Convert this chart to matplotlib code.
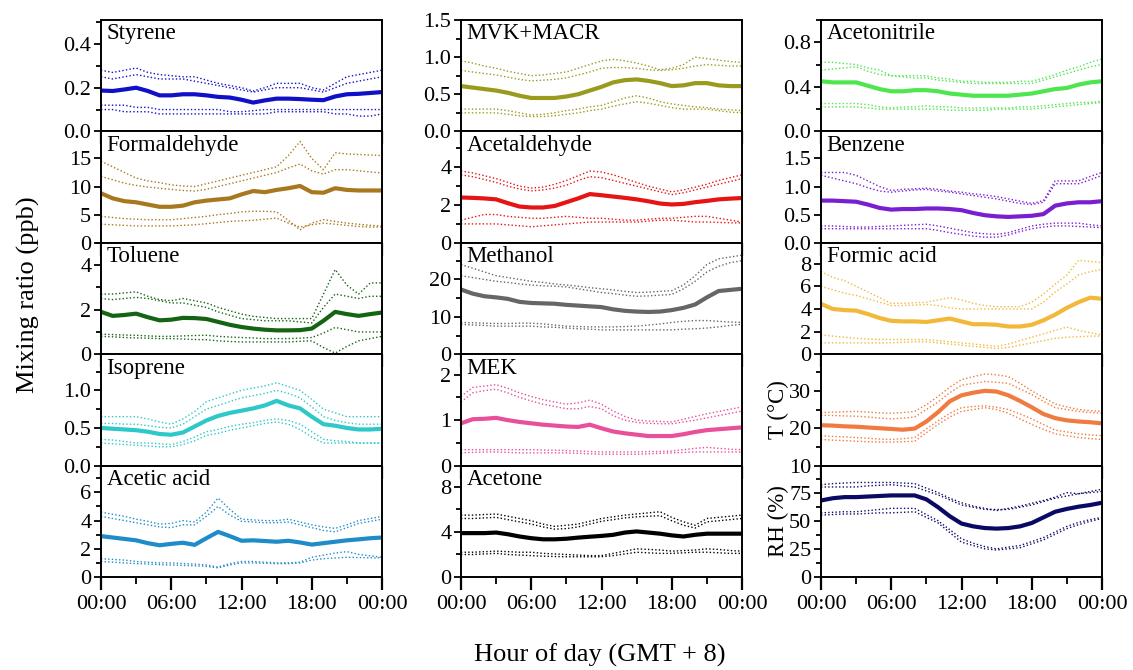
import matplotlib
matplotlib.use("Agg")
import matplotlib.pyplot as plt
from matplotlib.ticker import MultipleLocator, NullLocator

plt.rcParams['font.family'] = ['Liberation Serif', 'DejaVu Serif']
plt.rcParams['mathtext.fontset'] = 'stix'

hours = list(range(25))

# ---- column 1 ----
styrene_med = [0.187, 0.185, 0.192, 0.2, 0.185, 0.165, 0.165, 0.17, 0.17, 0.165, 0.158, 0.155, 0.145,
               0.132, 0.142, 0.15, 0.15, 0.148, 0.145, 0.143, 0.16, 0.17, 0.172, 0.176, 0.18]
styrene_p90 = [0.28, 0.27, 0.28, 0.29, 0.27, 0.26, 0.255, 0.25, 0.25, 0.235, 0.22, 0.21, 0.2,
               0.185, 0.2, 0.22, 0.22, 0.22, 0.2, 0.19, 0.22, 0.25, 0.26, 0.27, 0.28]
styrene_p75 = [0.25, 0.24, 0.25, 0.26, 0.25, 0.24, 0.24, 0.24, 0.23, 0.22, 0.21, 0.2, 0.19,
               0.18, 0.19, 0.2, 0.2, 0.2, 0.19, 0.18, 0.2, 0.22, 0.23, 0.24, 0.25]
styrene_p25 = [0.12, 0.12, 0.12, 0.11, 0.11, 0.1, 0.1, 0.1, 0.1, 0.1, 0.1, 0.09, 0.09,
               0.095, 0.1, 0.1, 0.1, 0.1, 0.1, 0.1, 0.1, 0.1, 0.1, 0.1, 0.1]
styrene_p10 = [0.1, 0.1, 0.09, 0.09, 0.09, 0.08, 0.08, 0.08, 0.08, 0.08, 0.08, 0.08, 0.08,
               0.08, 0.08, 0.09, 0.09, 0.09, 0.09, 0.09, 0.08, 0.08, 0.07, 0.07, 0.08]

formal_med = [8.8, 7.9, 7.4, 7.2, 6.8, 6.4, 6.4, 6.6, 7.2, 7.5, 7.7, 7.9, 8.6,
              9.2, 9.0, 9.4, 9.7, 10.1, 9.0, 8.9, 9.7, 9.4, 9.3, 9.3, 9.3]
formal_p90 = [14.5, 13.5, 12.5, 11.5, 11, 10.7, 10.3, 10.1, 10, 10.5, 11, 11.5, 12,
              12.5, 13, 13.5, 15.5, 18, 15, 13, 16, 15.8, 15.7, 15.6, 15.5]
formal_p75 = [11.8, 11.2, 10.6, 10.2, 9.9, 9.7, 9.5, 9.3, 9.2, 9.5, 10, 10.5, 11,
              11.5, 12, 12.5, 13.3, 14, 12.8, 12.2, 13, 13, 12.8, 12.6, 12.4]
formal_p25 = [4.7, 4.5, 4.3, 4.2, 4.1, 4.1, 4.1, 4.3, 4.5, 4.7, 5.0, 5.2, 5.5,
              5.6, 5.6, 5.5, 4.0, 2.3, 3.5, 4.1, 3.8, 3.5, 3.3, 3.1, 3.0]
formal_p10 = [3.3, 3.2, 3.1, 3.0, 3.0, 3.0, 3.0, 3.1, 3.2, 3.4, 3.6, 3.8, 3.9,
              4.0, 4.2, 4.4, 3.5, 2.8, 3.2, 3.5, 3.3, 3.1, 2.9, 2.8, 2.8]

toluene_med = [1.9, 1.72, 1.76, 1.82, 1.66, 1.52, 1.55, 1.63, 1.62, 1.58, 1.45, 1.32, 1.22,
               1.15, 1.1, 1.07, 1.07, 1.08, 1.15, 1.5, 1.9, 1.8, 1.72, 1.8, 1.87]
toluene_p90 = [2.7, 2.7, 2.75, 2.8, 2.6, 2.45, 2.4, 2.5, 2.4, 2.3, 2.1, 1.95, 1.8,
               1.7, 1.65, 1.6, 1.6, 1.6, 1.6, 2.7, 3.8, 3.1, 2.7, 3.2, 3.2]
toluene_p75 = [2.5, 2.45, 2.5, 2.55, 2.5, 2.4, 2.3, 2.3, 2.2, 2.1, 1.9, 1.75, 1.6,
               1.55, 1.5, 1.5, 1.5, 1.45, 1.4, 2.1, 2.7, 2.6, 2.5, 2.6, 2.6]
toluene_p25 = [0.9, 0.88, 0.86, 0.85, 0.82, 0.8, 0.8, 0.82, 0.84, 0.85, 0.8, 0.77, 0.75,
               0.73, 0.7, 0.7, 0.7, 0.72, 0.75, 0.95, 1.2, 1.1, 1.0, 1.0, 1.0]
toluene_p10 = [0.8, 0.78, 0.75, 0.73, 0.72, 0.7, 0.7, 0.68, 0.66, 0.65, 0.6, 0.57, 0.55,
               0.55, 0.55, 0.55, 0.55, 0.58, 0.6, 0.3, 0.05, 0.35, 0.6, 0.7, 0.8]

isoprene_med = [0.5, 0.49, 0.48, 0.47, 0.45, 0.42, 0.41, 0.44, 0.52, 0.6, 0.66, 0.7, 0.73,
                0.76, 0.8, 0.86, 0.8, 0.76, 0.65, 0.55, 0.53, 0.5, 0.48, 0.48, 0.49]
isoprene_p90 = [0.65, 0.65, 0.65, 0.65, 0.62, 0.58, 0.55, 0.62, 0.72, 0.85, 0.9, 0.95, 1.0,
                1.03, 1.06, 1.1, 1.05, 1.0, 0.88, 0.75, 0.7, 0.65, 0.65, 0.65, 0.65]
isoprene_p75 = [0.56, 0.56, 0.55, 0.55, 0.53, 0.51, 0.5, 0.55, 0.65, 0.75, 0.8, 0.85, 0.9,
                0.93, 0.96, 1.0, 0.96, 0.9, 0.78, 0.65, 0.6, 0.57, 0.55, 0.55, 0.55]
isoprene_p25 = [0.35, 0.34, 0.32, 0.3, 0.3, 0.29, 0.28, 0.32, 0.38, 0.45, 0.48, 0.52, 0.55,
                0.57, 0.6, 0.62, 0.6, 0.55, 0.45, 0.35, 0.33, 0.32, 0.3, 0.3, 0.3]
isoprene_p10 = [0.3, 0.29, 0.28, 0.27, 0.26, 0.25, 0.25, 0.28, 0.33, 0.4, 0.43, 0.47, 0.5,
                0.53, 0.56, 0.58, 0.55, 0.48, 0.38, 0.3, 0.3, 0.3, 0.3, 0.3, 0.3]

acetic_med = [2.9, 2.8, 2.7, 2.6, 2.4, 2.25, 2.35, 2.43, 2.28, 2.75, 3.2, 2.9, 2.57,
              2.6, 2.55, 2.5, 2.57, 2.45, 2.3, 2.4, 2.5, 2.6, 2.67, 2.75, 2.8]
acetic_p90 = [4.6, 4.45, 4.3, 4.1, 3.95, 3.75, 3.8, 4.0, 3.9, 4.6, 5.6, 4.8, 4.1,
              4.05, 4.0, 4.0, 4.1, 3.9, 3.7, 3.55, 3.45, 3.7, 4.0, 4.15, 4.3]
acetic_p75 = [4.3, 4.15, 4.0, 3.85, 3.7, 3.55, 3.5, 3.7, 3.7, 4.3, 5.0, 4.4, 3.95,
              3.9, 3.85, 3.85, 3.9, 3.7, 3.5, 3.3, 3.2, 3.5, 3.8, 3.95, 4.1]
acetic_p25 = [1.3, 1.25, 1.2, 1.1, 1.05, 1.0, 1.0, 0.95, 0.92, 0.85, 0.7, 0.95, 1.1,
              1.1, 1.05, 1.0, 1.0, 1.05, 1.4, 1.55, 1.7, 1.8, 1.6, 1.5, 1.4]
acetic_p10 = [1.1, 1.05, 1.0, 0.95, 0.92, 0.88, 0.85, 0.82, 0.8, 0.75, 0.65, 0.85, 1.0,
              1.0, 0.97, 0.95, 0.95, 1.0, 1.2, 1.3, 1.35, 1.4, 1.38, 1.36, 1.35]

# ---- column 2 ----
mvk_med = [0.61, 0.59, 0.57, 0.55, 0.52, 0.48, 0.45, 0.45, 0.45, 0.47, 0.5, 0.55, 0.6,
           0.66, 0.69, 0.7, 0.68, 0.65, 0.61, 0.62, 0.65, 0.65, 0.62, 0.61, 0.61]
mvk_p90 = [0.95, 0.92, 0.88, 0.85, 0.81, 0.78, 0.75, 0.76, 0.78, 0.8, 0.85, 0.9, 0.95,
           0.97, 0.95, 0.92, 0.88, 0.83, 0.85, 0.9, 1.0, 0.98, 0.96, 0.94, 0.93]
mvk_p75 = [0.82, 0.8, 0.78, 0.76, 0.73, 0.7, 0.68, 0.69, 0.7, 0.72, 0.76, 0.8, 0.85,
           0.86, 0.86, 0.85, 0.83, 0.82, 0.83, 0.85, 0.88, 0.9, 0.89, 0.88, 0.88]
mvk_p25 = [0.3, 0.3, 0.3, 0.3, 0.28, 0.25, 0.22, 0.23, 0.25, 0.28, 0.3, 0.33, 0.35,
           0.4, 0.45, 0.48, 0.45, 0.4, 0.37, 0.35, 0.33, 0.32, 0.3, 0.29, 0.28]
mvk_p10 = [0.25, 0.25, 0.25, 0.25, 0.23, 0.21, 0.2, 0.2, 0.21, 0.23, 0.25, 0.28, 0.3,
           0.34, 0.37, 0.4, 0.38, 0.35, 0.32, 0.3, 0.3, 0.3, 0.28, 0.26, 0.25]

acetald_med = [2.4, 2.38, 2.35, 2.3, 2.1, 1.92, 1.87, 1.87, 1.95, 2.15, 2.35, 2.58, 2.52,
               2.45, 2.38, 2.3, 2.2, 2.08, 2.03, 2.06, 2.15, 2.22, 2.3, 2.34, 2.37]
acetald_p90 = [3.8, 3.7, 3.55, 3.4, 3.2, 3.0, 2.9, 2.95, 3.1, 3.3, 3.55, 3.8, 3.75,
               3.6, 3.4, 3.2, 3.0, 2.85, 2.7, 2.8, 2.95, 3.1, 3.3, 3.45, 3.6]
acetald_p75 = [3.6, 3.5, 3.35, 3.2, 3.0, 2.85, 2.75, 2.8, 2.9, 3.05, 3.3, 3.5, 3.45,
               3.3, 3.15, 3.0, 2.85, 2.7, 2.55, 2.65, 2.8, 2.95, 3.1, 3.25, 3.4]
acetald_p25 = [1.2, 1.35, 1.5, 1.5, 1.4, 1.35, 1.3, 1.3, 1.35, 1.4, 1.35, 1.3, 1.3,
               1.25, 1.2, 1.2, 1.25, 1.3, 1.3, 1.35, 1.4, 1.4, 1.3, 1.2, 1.1]
acetald_p10 = [1.0, 1.0, 1.0, 1.0, 0.95, 0.9, 0.85, 0.9, 0.95, 1.0, 1.05, 1.1, 1.1,
               1.1, 1.1, 1.1, 1.15, 1.2, 1.2, 1.15, 1.1, 1.1, 1.08, 1.06, 1.05]

methanol_med = [17.3, 16.2, 15.5, 15.2, 14.8, 14.0, 13.7, 13.6, 13.5, 13.2, 13.0, 12.8, 12.6,
                12.0, 11.6, 11.4, 11.3, 11.4, 11.8, 12.4, 13.3, 15.2, 16.9, 17.2, 17.5]
methanol_p90 = [24, 23, 22, 21, 20.5, 20, 19.5, 19.2, 18.8, 18.5, 18.2, 17.8, 17.5,
                17.2, 16.8, 16.5, 16.6, 16.8, 17, 18.5, 21, 24, 25.5, 26, 26.5]
methanol_p75 = [21, 20.5, 20, 19.5, 19.2, 18.8, 18.5, 18.3, 18.2, 18, 17.5, 17, 16.5,
                16.2, 15.8, 15.5, 15.6, 15.8, 16, 17.5, 19.5, 22, 23.5, 24.5, 25]
methanol_p25 = [8.5, 8.4, 8.3, 8.2, 8.2, 8.3, 8.3, 8.1, 7.8, 7.5, 7.4, 7.3, 7.3,
                7.3, 7.4, 7.5, 7.8, 8.1, 8.5, 8.8, 9.0, 9.0, 8.8, 8.6, 8.5]
methanol_p10 = [8.0, 7.8, 7.7, 7.5, 7.5, 7.5, 7.5, 7.3, 7.2, 7.0, 6.8, 6.7, 6.5,
                6.5, 6.5, 6.5, 6.5, 6.5, 6.5, 6.7, 6.8, 7.0, 7.3, 7.7, 8.0]

mek_med = [0.93, 1.02, 1.03, 1.05, 1.0, 0.96, 0.93, 0.9, 0.88, 0.86, 0.85, 0.9, 0.82,
           0.75, 0.71, 0.68, 0.65, 0.65, 0.65, 0.69, 0.74, 0.78, 0.8, 0.82, 0.84]
mek_p90 = [1.52, 1.72, 1.75, 1.78, 1.7, 1.6, 1.52, 1.45, 1.4, 1.35, 1.38, 1.44, 1.35,
           1.2, 1.08, 1.0, 0.98, 0.97, 0.96, 1.02, 1.08, 1.14, 1.19, 1.24, 1.29]
mek_p75 = [1.4, 1.6, 1.65, 1.68, 1.6, 1.5, 1.42, 1.35, 1.3, 1.25, 1.25, 1.3, 1.25,
           1.1, 1.0, 0.95, 0.93, 0.92, 0.92, 0.96, 1.0, 1.05, 1.1, 1.15, 1.2]
mek_p25 = [0.35, 0.35, 0.35, 0.35, 0.35, 0.35, 0.35, 0.34, 0.34, 0.33, 0.32, 0.31, 0.3,
           0.3, 0.3, 0.3, 0.31, 0.31, 0.32, 0.35, 0.38, 0.4, 0.38, 0.36, 0.35]
mek_p10 = [0.28, 0.29, 0.3, 0.3, 0.29, 0.28, 0.28, 0.28, 0.28, 0.28, 0.27, 0.26, 0.25,
           0.25, 0.25, 0.25, 0.26, 0.27, 0.28, 0.29, 0.3, 0.3, 0.3, 0.3, 0.3]

acetone_med = [3.9, 3.9, 3.9, 3.95, 3.8, 3.6, 3.45, 3.35, 3.35, 3.4, 3.5, 3.58, 3.65,
               3.75, 3.95, 4.05, 3.95, 3.85, 3.7, 3.6, 3.75, 3.85, 3.85, 3.85, 3.85]
acetone_p90 = [5.5, 5.5, 5.55, 5.6, 5.4, 5.2, 5.0, 4.7, 4.5, 4.6, 4.7, 4.95, 5.2,
               5.35, 5.5, 5.6, 5.7, 5.8, 5.3, 4.9, 4.6, 5.2, 5.3, 5.4, 5.5]
acetone_p75 = [5.2, 5.2, 5.25, 5.3, 5.1, 4.9, 4.7, 4.45, 4.25, 4.3, 4.45, 4.7, 4.95,
               5.1, 5.25, 5.35, 5.4, 5.45, 5.0, 4.6, 4.35, 4.9, 5.0, 5.1, 5.2]
acetone_p25 = [2.2, 2.2, 2.25, 2.3, 2.25, 2.2, 2.2, 2.1, 2.05, 2.0, 1.95, 1.9, 1.9,
               2.1, 2.3, 2.5, 2.45, 2.4, 2.3, 2.35, 2.4, 2.5, 2.45, 2.35, 2.3]
acetone_p10 = [2.0, 2.0, 2.05, 2.1, 2.0, 1.95, 1.9, 1.85, 1.82, 1.8, 1.8, 1.8, 1.8,
               1.9, 2.05, 2.2, 2.15, 2.1, 2.1, 2.15, 2.2, 2.2, 2.15, 2.1, 2.1]

# ---- column 3 ----
acn_med = [0.45, 0.44, 0.44, 0.44, 0.41, 0.38, 0.36, 0.36, 0.37, 0.37, 0.36, 0.34, 0.33,
           0.32, 0.32, 0.32, 0.32, 0.33, 0.34, 0.36, 0.38, 0.39, 0.42, 0.44, 0.45]
acn_p90 = [0.62, 0.62, 0.61, 0.6, 0.57, 0.55, 0.5, 0.5, 0.5, 0.5, 0.48, 0.47, 0.45,
           0.45, 0.44, 0.44, 0.44, 0.45, 0.45, 0.48, 0.51, 0.55, 0.58, 0.62, 0.65]
acn_p75 = [0.55, 0.56, 0.57, 0.58, 0.54, 0.51, 0.5, 0.49, 0.48, 0.48, 0.46, 0.45, 0.44,
           0.43, 0.43, 0.43, 0.43, 0.43, 0.43, 0.46, 0.49, 0.52, 0.55, 0.58, 0.6]
acn_p25 = [0.25, 0.25, 0.25, 0.25, 0.24, 0.22, 0.21, 0.22, 0.22, 0.23, 0.22, 0.22, 0.21,
           0.21, 0.21, 0.21, 0.21, 0.22, 0.22, 0.23, 0.24, 0.25, 0.26, 0.26, 0.27]
acn_p10 = [0.22, 0.22, 0.22, 0.22, 0.21, 0.2, 0.2, 0.2, 0.2, 0.2, 0.2, 0.19, 0.19,
           0.19, 0.19, 0.2, 0.2, 0.2, 0.2, 0.21, 0.22, 0.23, 0.24, 0.25, 0.26]

benzene_med = [0.75, 0.75, 0.74, 0.73, 0.68, 0.62, 0.59, 0.6, 0.6, 0.61, 0.61, 0.6, 0.58,
               0.53, 0.49, 0.47, 0.46, 0.47, 0.48, 0.51, 0.66, 0.7, 0.72, 0.72, 0.74]
benzene_p90 = [1.25, 1.25, 1.25, 1.2, 1.1, 1.0, 0.93, 0.95, 0.96, 0.97, 0.95, 0.92, 0.9,
               0.87, 0.85, 0.82, 0.78, 0.74, 0.7, 0.75, 1.1, 1.1, 1.1, 1.18, 1.25]
benzene_p75 = [1.2, 1.15, 1.1, 1.05, 0.98, 0.92, 0.9, 0.92, 0.94, 0.95, 0.92, 0.9, 0.87,
               0.84, 0.81, 0.78, 0.74, 0.7, 0.68, 0.72, 1.05, 1.05, 1.05, 1.12, 1.2]
benzene_p25 = [0.3, 0.3, 0.29, 0.28, 0.28, 0.29, 0.3, 0.31, 0.32, 0.33, 0.3, 0.26, 0.22,
               0.18, 0.16, 0.15, 0.18, 0.24, 0.3, 0.33, 0.35, 0.35, 0.35, 0.32, 0.3]
benzene_p10 = [0.25, 0.25, 0.25, 0.25, 0.25, 0.25, 0.25, 0.25, 0.25, 0.25, 0.22, 0.18, 0.15,
               0.12, 0.1, 0.1, 0.14, 0.2, 0.25, 0.28, 0.3, 0.3, 0.29, 0.28, 0.27]

formic_med = [4.45, 4.0, 3.9, 3.85, 3.55, 3.2, 2.95, 2.9, 2.9, 2.85, 3.0, 3.15, 2.9,
              2.65, 2.65, 2.6, 2.45, 2.45, 2.6, 3.0, 3.5, 4.1, 4.6, 5.0, 4.9]
formic_p90 = [7.3, 6.8, 6.5, 6.0, 5.5, 5.0, 4.5, 4.5, 4.55, 4.6, 4.8, 5.0, 4.8,
              4.5, 4.3, 4.2, 4.2, 4.2, 4.6, 5.3, 6.2, 7.0, 8.3, 8.2, 8.1]
formic_p75 = [6.0, 5.7, 5.4, 5.2, 4.9, 4.6, 4.3, 4.3, 4.35, 4.4, 4.3, 4.1, 4.0,
              4.0, 4.0, 4.0, 4.0, 4.0, 4.0, 4.6, 5.5, 6.2, 7.0, 7.3, 7.5]
formic_p25 = [1.7, 1.6, 1.5, 1.4, 1.35, 1.3, 1.3, 1.3, 1.3, 1.3, 1.2, 1.1, 1.0,
              0.9, 0.8, 0.7, 0.9, 1.2, 1.5, 1.8, 2.1, 2.4, 2.1, 1.9, 1.7]
formic_p10 = [1.0, 1.0, 1.0, 1.0, 1.0, 1.0, 1.0, 1.05, 1.1, 1.1, 1.0, 0.9, 0.8,
              0.7, 0.6, 0.5, 0.6, 0.8, 1.0, 1.2, 1.4, 1.5, 1.55, 1.6, 1.6]

temp_med = [20.8, 20.7, 20.5, 20.4, 20.2, 20.0, 19.8, 19.6, 19.9, 21.8, 24.3, 27.2, 28.8,
            29.5, 30.0, 29.8, 28.8, 27.3, 25.6, 23.8, 22.7, 22.1, 21.8, 21.6, 21.3]
temp_p90 = [24.2, 24.3, 24.4, 24.5, 24.3, 24.1, 24.0, 24.2, 24.5, 26.3, 28.5, 31, 33,
            33.8, 34.5, 34.3, 33.8, 32, 30, 28.2, 26.5, 25.7, 25, 24.7, 24.5]
temp_p75 = [23.5, 23.4, 23.3, 23.2, 23, 22.7, 22.5, 22.7, 23, 25, 27, 29.5, 31.5,
            32, 32.5, 32.3, 32, 30.5, 29, 27.2, 25.5, 25, 24.5, 24.2, 24]
temp_p25 = [18, 17.8, 17.7, 17.5, 17.3, 17.1, 17, 17.2, 17.5, 19.8, 22, 24, 25.5,
            25.8, 26, 25.6, 25, 23.8, 22.5, 21, 19.5, 19, 18.5, 18.2, 18]
temp_p10 = [17, 16.8, 16.7, 16.5, 16.4, 16.3, 16.3, 16.4, 16.5, 18.8, 21, 23, 24.5,
            25, 25.5, 25, 24, 22.5, 21, 19.7, 18.5, 18, 17.5, 17.2, 17]

rh_med = [68, 70, 71, 71, 71.5, 72, 72.5, 72.5, 72.5, 69, 62, 54, 47.5,
          45, 43.5, 43, 43.5, 45, 48, 53, 58, 60.5, 62.5, 64, 66]
rh_p90 = [82, 83, 83.5, 84, 84, 84, 84, 83.5, 83, 79, 75, 70, 66,
          63, 61, 59, 61, 63, 65.5, 68, 71, 75, 74, 76, 78]
rh_p75 = [80, 80, 80, 80, 81, 81.5, 82, 81, 80, 76.5, 73, 68.5, 64,
          62, 60, 60, 60, 62, 64, 67, 70, 72, 74, 75, 76]
rh_p25 = [57, 57.5, 58, 58, 59, 60, 61, 61, 61, 55.5, 50, 42, 34,
          30, 27, 25, 26.5, 28, 31.5, 35, 40, 45, 48.5, 51, 53]
rh_p10 = [55, 55.5, 56, 56, 56.5, 57, 57, 57.5, 58, 53, 48, 39.5, 31,
          28, 25, 24, 25, 26, 29.5, 33, 38, 43, 46.5, 49.5, 52]

# name, series, colour, ylim, major, minor
panels = [
    [("Styrene", (styrene_med, styrene_p90, styrene_p75, styrene_p25, styrene_p10), '#1010c8', (0, 0.51), 0.2, 0.1),
     ("Formaldehyde", (formal_med, formal_p90, formal_p75, formal_p25, formal_p10), '#a8781e', (0, 19.8), 5, None),
     ("Toluene", (toluene_med, toluene_p90, toluene_p75, toluene_p25, toluene_p10), '#146414', (0, 5), 2, 1),
     ("Isoprene", (isoprene_med, isoprene_p90, isoprene_p75, isoprene_p25, isoprene_p10), '#2ec8c8', (0, 1.48), 0.5, 0.25),
     ("Acetic acid", (acetic_med, acetic_p90, acetic_p75, acetic_p25, acetic_p10), '#1e8cc8', (0, 7.9), 2, 1)],
    [("MVK+MACR", (mvk_med, mvk_p90, mvk_p75, mvk_p25, mvk_p10), '#9a9a1e', (0, 1.5), 0.5, 0.25),
     ("Acetaldehyde", (acetald_med, acetald_p90, acetald_p75, acetald_p25, acetald_p10), '#e61414', (0, 5.9), 2, 1),
     ("Methanol", (methanol_med, methanol_p90, methanol_p75, methanol_p25, methanol_p10), '#666666', (0, 29.8), 10, 5),
     ("MEK", (mek_med, mek_p90, mek_p75, mek_p25, mek_p10), '#e8509a', (0, 2.45), 1, 0.5),
     ("Acetone", (acetone_med, acetone_p90, acetone_p75, acetone_p25, acetone_p10), '#000000', (0, 9.9), 4, 2)],
    [("Acetonitrile", (acn_med, acn_p90, acn_p75, acn_p25, acn_p10), '#4ee64e', (0, 1.0), 0.4, 0.2),
     ("Benzene", (benzene_med, benzene_p90, benzene_p75, benzene_p25, benzene_p10), '#7a1ed2', (0, 1.98), 0.5, None),
     ("Formic acid", (formic_med, formic_p90, formic_p75, formic_p25, formic_p10), '#f2b83a', (0, 9.85), 2, None),
     ("", (temp_med, temp_p90, temp_p75, temp_p25, temp_p10), '#f07a40', (10, 39.8), 10, 5),
     ("", (rh_med, rh_p90, rh_p75, rh_p25, rh_p10), '#0a0a64', (0, 99), 25, 12.5)],
]
side_labels = {(2, 3): "T (°C)", (2, 4): "RH (%)"}

W, H = 1133, 670
fig = plt.figure(figsize=(W / 100, H / 100), dpi=100)

col_left = [101, 461, 821]
col_w = 281
top, bottom = 20, 577
row_h = (bottom - top) / 5

for c, col in enumerate(panels):
    for r, (name, series, color, ylim, major, minor) in enumerate(col):
        y0 = top + r * row_h
        ax = fig.add_axes([col_left[c] / W, 1 - (y0 + row_h) / H, col_w / W, row_h / H])
        med = series[0]
        for q in series[1:]:
            ax.plot(hours, q, color=color, lw=1.0, ls=(0, (1, 1.6)))
        ax.plot(hours, med, color=color, lw=3.0, solid_capstyle='round')
        ax.set_xlim(0, 24)
        ax.set_ylim(*ylim)
        ax.xaxis.set_major_locator(MultipleLocator(6))
        ax.xaxis.set_minor_locator(MultipleLocator(3))
        ax.yaxis.set_major_locator(MultipleLocator(major))
        if minor:
            ax.yaxis.set_minor_locator(MultipleLocator(minor))
        else:
            ax.yaxis.set_minor_locator(NullLocator())
        if major < 1:
            ax.yaxis.set_major_formatter(plt.FormatStrFormatter('%.1f'))
        else:
            ax.yaxis.set_major_formatter(plt.FormatStrFormatter('%d'))
        ax.tick_params(axis='y', which='major', direction='out', length=5, width=1.3, labelsize=16, pad=2)
        ax.tick_params(axis='y', which='minor', direction='out', length=3.5, width=1.3)
        ax.tick_params(axis='x', which='major', direction='out', length=9, width=1.6, labelsize=16, pad=4)
        ax.tick_params(axis='x', which='minor', direction='out', length=5, width=1.3)
        for sp in ax.spines.values():
            sp.set_linewidth(1.4)
        if r == 4:
            ax.set_xticks([0, 6, 12, 18, 24])
            ax.set_xticklabels(['00:00', '06:00', '12:00', '18:00', '00:00'])
        else:
            ax.set_xticklabels([])
        if name:
            ax.text(0.02, 0.97, name, transform=ax.transAxes, ha='left', va='top', fontsize=16.5)
        if (c, r) in side_labels:
            ax.set_ylabel(side_labels[(c, r)], fontsize=16.5, labelpad=0)

fig.text(28 / W, 1 - 295 / H, "Mixing ratio (ppb)", rotation=90, ha='center', va='center', fontsize=19)
fig.text(600 / W, 1 - 655 / H, "Hour of day (GMT + 8)", ha='center', va='center', fontsize=19)

fig.savefig("out.png", dpi=100)
